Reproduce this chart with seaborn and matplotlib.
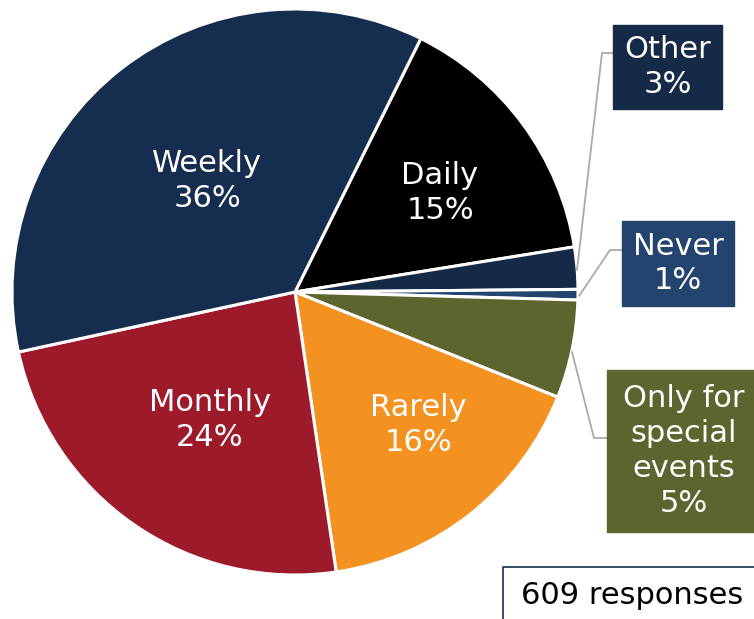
import matplotlib
matplotlib.use("Agg")
import matplotlib.pyplot as plt
import seaborn as sns

# Data: slice sizes (share of responses, %) clockwise from the Weekly/Daily border,
# and the percentage labels as printed on the chart
categories = ["Daily", "Other", "Never", "Only for\nspecial\nevents", "Rarely", "Monthly", "Weekly"]
shares = [15.1, 2.4, 0.6, 5.6, 16.6, 23.9, 35.7]
pct_labels = ["15%", "3%", "1%", "5%", "16%", "24%", "36%"]
colors = ["#000000", "#152a47", "#22446e", "#5c652e", "#f39220", "#9c1a29", "#152d4e"]
total_responses = 609

sns.set_theme(style="white")
plt.rcParams["font.family"] = ["DejaVu Sans"]

W, H = 754, 619
fig = plt.figure(figsize=(W / 100, H / 100), dpi=100)
ax = fig.add_axes([0, 0, 1, 1])

cx, cy, r = 295, H - 292, 283
ax.pie(shares, colors=colors, startangle=63.6, counterclock=False,
       center=(cx, cy), radius=r, frame=True,
       wedgeprops=dict(edgecolor="white", linewidth=2.2))
ax.set_xlim(0, W)
ax.set_ylim(0, H)
ax.set_aspect("equal")
ax.axis("off")

fs = 22
txt = dict(color="white", fontsize=fs, ha="center", va="center", linespacing=1.25)

def lab(i):
    return f"{categories[i]}\n{pct_labels[i]}"

# labels inside big slices
ax.text(207, H - 181, lab(6), **txt)
ax.text(440, H - 193, lab(0), **txt)
ax.text(210, H - 420, lab(5), **txt)
ax.text(418, H - 425, lab(4), **txt)

# boxed callouts for small slices
def box(x0, y0, x1, y1, color, label):
    ax.add_patch(plt.Rectangle((x0, H - y1), x1 - x0, y1 - y0, color=color, zorder=3))
    ax.text((x0 + x1) / 2, H - (y0 + y1) / 2, label, zorder=4, **txt)

box(613, 25, 722, 109, colors[1], lab(1))
box(622, 221, 734, 306, colors[2], lab(2))
box(607, 370, 760, 532, colors[3], lab(3))

lc = dict(color="#aaaaaa", linewidth=1.3, zorder=2)
ax.plot([613, 602, 577], [H - 53, H - 53, H - 270], **lc)
ax.plot([622, 610, 579], [H - 250, H - 250, H - 296], **lc)
ax.plot([607, 594, 572], [H - 438, H - 438, H - 352], **lc)

# responses box
ax.plot([503, 503, 760], [0, H - 567, H - 567], color="#152d4e", linewidth=1.2)
ax.text(632, H - 596, f"{total_responses} responses", color="black", fontsize=fs,
        ha="center", va="center")

fig.savefig("out.png", dpi=100)
